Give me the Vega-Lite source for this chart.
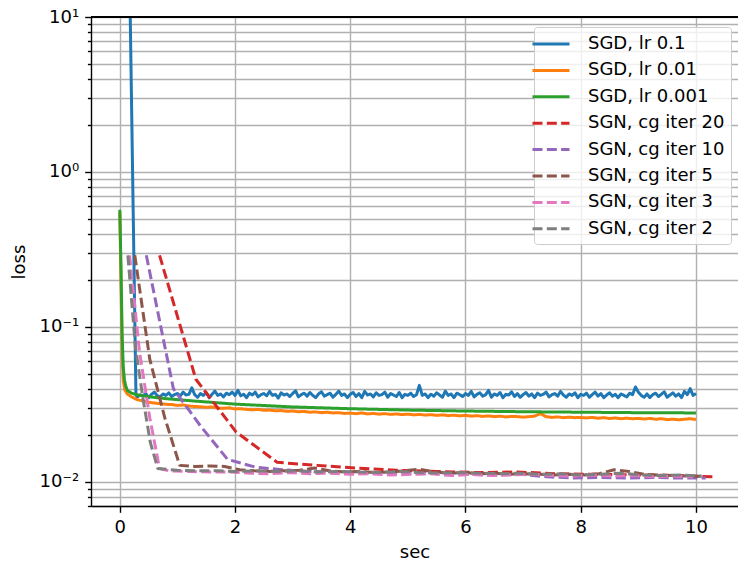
{
"$schema": "https://vega.github.io/schema/vega-lite/v6.json",
"width": 647, "height": 489,
"autosize": "none",
"padding": {"left": 91, "top": 17, "right": 0, "bottom": 58},
"config": {"font": "DejaVu Sans", "view": {"stroke": null},
  "axis": {"labelFontSize": 18, "titleFontSize": 18, "titleFontWeight": "normal", "labelColor": "black", "titleColor": "black", "tickColor": "black", "domainColor": "black", "tickWidth": 1.4, "domainWidth": 1.4, "gridColor": "#b0b0b0", "gridWidth": 1.4, "gridOpacity": 1, "labelFlush": false, "labelOverlap": false}},
"data": {"values": [
{"s":"SGD, lr 0.1","t":0.165,"v":25},{"s":"SGD, lr 0.1","t":0.28,"v":0.037},
{"s":"SGD, lr 0.1","t":0.30,"v":0.0352},{"s":"SGD, lr 0.1","t":0.35,"v":0.0365},{"s":"SGD, lr 0.1","t":0.40,"v":0.0358},{"s":"SGD, lr 0.1","t":0.45,"v":0.0372},{"s":"SGD, lr 0.1","t":0.50,"v":0.0350},{"s":"SGD, lr 0.1","t":0.55,"v":0.0368},{"s":"SGD, lr 0.1","t":0.60,"v":0.0380},{"s":"SGD, lr 0.1","t":0.65,"v":0.0360},{"s":"SGD, lr 0.1","t":0.70,"v":0.0354},{"s":"SGD, lr 0.1","t":0.75,"v":0.0370},{"s":"SGD, lr 0.1","t":0.80,"v":0.0362},{"s":"SGD, lr 0.1","t":0.85,"v":0.0376},{"s":"SGD, lr 0.1","t":0.90,"v":0.0356},{"s":"SGD, lr 0.1","t":0.95,"v":0.0366},
{"s":"SGD, lr 0.1","t":1.00,"v":0.0372},{"s":"SGD, lr 0.1","t":1.05,"v":0.0360},{"s":"SGD, lr 0.1","t":1.10,"v":0.0380},{"s":"SGD, lr 0.1","t":1.15,"v":0.0364},{"s":"SGD, lr 0.1","t":1.20,"v":0.0368},{"s":"SGD, lr 0.1","t":1.25,"v":0.0405},{"s":"SGD, lr 0.1","t":1.30,"v":0.0366},{"s":"SGD, lr 0.1","t":1.35,"v":0.0352},{"s":"SGD, lr 0.1","t":1.40,"v":0.0372},{"s":"SGD, lr 0.1","t":1.45,"v":0.0362},{"s":"SGD, lr 0.1","t":1.50,"v":0.0378},{"s":"SGD, lr 0.1","t":1.55,"v":0.0350},{"s":"SGD, lr 0.1","t":1.60,"v":0.0368},{"s":"SGD, lr 0.1","t":1.65,"v":0.0386},{"s":"SGD, lr 0.1","t":1.70,"v":0.0362},{"s":"SGD, lr 0.1","t":1.75,"v":0.0370},{"s":"SGD, lr 0.1","t":1.80,"v":0.0354},{"s":"SGD, lr 0.1","t":1.85,"v":0.0374},{"s":"SGD, lr 0.1","t":1.90,"v":0.0366},{"s":"SGD, lr 0.1","t":1.95,"v":0.0380},
{"s":"SGD, lr 0.1","t":2.00,"v":0.0362},{"s":"SGD, lr 0.1","t":2.05,"v":0.0390},{"s":"SGD, lr 0.1","t":2.10,"v":0.0360},{"s":"SGD, lr 0.1","t":2.15,"v":0.0368},{"s":"SGD, lr 0.1","t":2.20,"v":0.0350},{"s":"SGD, lr 0.1","t":2.25,"v":0.0374},{"s":"SGD, lr 0.1","t":2.30,"v":0.0364},{"s":"SGD, lr 0.1","t":2.35,"v":0.0380},{"s":"SGD, lr 0.1","t":2.40,"v":0.0354},{"s":"SGD, lr 0.1","t":2.45,"v":0.0366},{"s":"SGD, lr 0.1","t":2.50,"v":0.0372},{"s":"SGD, lr 0.1","t":2.55,"v":0.0360},{"s":"SGD, lr 0.1","t":2.60,"v":0.0384},{"s":"SGD, lr 0.1","t":2.65,"v":0.0362},{"s":"SGD, lr 0.1","t":2.70,"v":0.0368},{"s":"SGD, lr 0.1","t":2.75,"v":0.0348},{"s":"SGD, lr 0.1","t":2.80,"v":0.0376},{"s":"SGD, lr 0.1","t":2.85,"v":0.0364},{"s":"SGD, lr 0.1","t":2.90,"v":0.0370},{"s":"SGD, lr 0.1","t":2.95,"v":0.0356},
{"s":"SGD, lr 0.1","t":3.00,"v":0.0372},{"s":"SGD, lr 0.1","t":3.05,"v":0.0388},{"s":"SGD, lr 0.1","t":3.10,"v":0.0354},{"s":"SGD, lr 0.1","t":3.15,"v":0.0366},{"s":"SGD, lr 0.1","t":3.20,"v":0.0374},{"s":"SGD, lr 0.1","t":3.25,"v":0.0358},{"s":"SGD, lr 0.1","t":3.30,"v":0.0378},{"s":"SGD, lr 0.1","t":3.35,"v":0.0362},{"s":"SGD, lr 0.1","t":3.40,"v":0.0350},{"s":"SGD, lr 0.1","t":3.45,"v":0.0370},{"s":"SGD, lr 0.1","t":3.50,"v":0.0382},{"s":"SGD, lr 0.1","t":3.55,"v":0.0358},{"s":"SGD, lr 0.1","t":3.60,"v":0.0366},{"s":"SGD, lr 0.1","t":3.65,"v":0.0374},{"s":"SGD, lr 0.1","t":3.70,"v":0.0352},{"s":"SGD, lr 0.1","t":3.75,"v":0.0368},{"s":"SGD, lr 0.1","t":3.80,"v":0.0386},{"s":"SGD, lr 0.1","t":3.85,"v":0.0362},{"s":"SGD, lr 0.1","t":3.90,"v":0.0370},{"s":"SGD, lr 0.1","t":3.95,"v":0.0350},
{"s":"SGD, lr 0.1","t":4.00,"v":0.0368},{"s":"SGD, lr 0.1","t":4.05,"v":0.0378},{"s":"SGD, lr 0.1","t":4.10,"v":0.0356},{"s":"SGD, lr 0.1","t":4.15,"v":0.0372},{"s":"SGD, lr 0.1","t":4.20,"v":0.0350},{"s":"SGD, lr 0.1","t":4.25,"v":0.0384},{"s":"SGD, lr 0.1","t":4.30,"v":0.0364},{"s":"SGD, lr 0.1","t":4.35,"v":0.0370},{"s":"SGD, lr 0.1","t":4.40,"v":0.0354},{"s":"SGD, lr 0.1","t":4.45,"v":0.0376},{"s":"SGD, lr 0.1","t":4.50,"v":0.0362},{"s":"SGD, lr 0.1","t":4.55,"v":0.0366},{"s":"SGD, lr 0.1","t":4.60,"v":0.0380},{"s":"SGD, lr 0.1","t":4.65,"v":0.0352},{"s":"SGD, lr 0.1","t":4.70,"v":0.0372},{"s":"SGD, lr 0.1","t":4.75,"v":0.0364},{"s":"SGD, lr 0.1","t":4.80,"v":0.0356},{"s":"SGD, lr 0.1","t":4.85,"v":0.0378},{"s":"SGD, lr 0.1","t":4.90,"v":0.0350},{"s":"SGD, lr 0.1","t":4.95,"v":0.0368},
{"s":"SGD, lr 0.1","t":5.00,"v":0.0362},{"s":"SGD, lr 0.1","t":5.05,"v":0.0374},{"s":"SGD, lr 0.1","t":5.10,"v":0.0356},{"s":"SGD, lr 0.1","t":5.15,"v":0.0366},{"s":"SGD, lr 0.1","t":5.20,"v":0.0420},{"s":"SGD, lr 0.1","t":5.25,"v":0.0362},{"s":"SGD, lr 0.1","t":5.30,"v":0.0370},{"s":"SGD, lr 0.1","t":5.35,"v":0.0350},{"s":"SGD, lr 0.1","t":5.40,"v":0.0368},{"s":"SGD, lr 0.1","t":5.45,"v":0.0358},{"s":"SGD, lr 0.1","t":5.50,"v":0.0376},{"s":"SGD, lr 0.1","t":5.55,"v":0.0364},{"s":"SGD, lr 0.1","t":5.60,"v":0.0352},{"s":"SGD, lr 0.1","t":5.65,"v":0.0386},{"s":"SGD, lr 0.1","t":5.70,"v":0.0362},{"s":"SGD, lr 0.1","t":5.75,"v":0.0370},{"s":"SGD, lr 0.1","t":5.80,"v":0.0350},{"s":"SGD, lr 0.1","t":5.85,"v":0.0374},{"s":"SGD, lr 0.1","t":5.90,"v":0.0366},{"s":"SGD, lr 0.1","t":5.95,"v":0.0356},
{"s":"SGD, lr 0.1","t":6.00,"v":0.0372},{"s":"SGD, lr 0.1","t":6.05,"v":0.0362},{"s":"SGD, lr 0.1","t":6.10,"v":0.0384},{"s":"SGD, lr 0.1","t":6.15,"v":0.0354},{"s":"SGD, lr 0.1","t":6.20,"v":0.0368},{"s":"SGD, lr 0.1","t":6.25,"v":0.0376},{"s":"SGD, lr 0.1","t":6.30,"v":0.0358},{"s":"SGD, lr 0.1","t":6.35,"v":0.0366},{"s":"SGD, lr 0.1","t":6.40,"v":0.0390},{"s":"SGD, lr 0.1","t":6.45,"v":0.0352},{"s":"SGD, lr 0.1","t":6.50,"v":0.0370},{"s":"SGD, lr 0.1","t":6.55,"v":0.0362},{"s":"SGD, lr 0.1","t":6.60,"v":0.0378},{"s":"SGD, lr 0.1","t":6.65,"v":0.0350},{"s":"SGD, lr 0.1","t":6.70,"v":0.0368},{"s":"SGD, lr 0.1","t":6.75,"v":0.0364},{"s":"SGD, lr 0.1","t":6.80,"v":0.0382},{"s":"SGD, lr 0.1","t":6.85,"v":0.0356},{"s":"SGD, lr 0.1","t":6.90,"v":0.0372},{"s":"SGD, lr 0.1","t":6.95,"v":0.0352},
{"s":"SGD, lr 0.1","t":7.00,"v":0.0366},{"s":"SGD, lr 0.1","t":7.05,"v":0.0378},{"s":"SGD, lr 0.1","t":7.10,"v":0.0358},{"s":"SGD, lr 0.1","t":7.15,"v":0.0370},{"s":"SGD, lr 0.1","t":7.20,"v":0.0350},{"s":"SGD, lr 0.1","t":7.25,"v":0.0374},{"s":"SGD, lr 0.1","t":7.30,"v":0.0362},{"s":"SGD, lr 0.1","t":7.35,"v":0.0368},{"s":"SGD, lr 0.1","t":7.40,"v":0.0380},{"s":"SGD, lr 0.1","t":7.45,"v":0.0354},{"s":"SGD, lr 0.1","t":7.50,"v":0.0366},{"s":"SGD, lr 0.1","t":7.55,"v":0.0372},{"s":"SGD, lr 0.1","t":7.60,"v":0.0358},{"s":"SGD, lr 0.1","t":7.65,"v":0.0384},{"s":"SGD, lr 0.1","t":7.70,"v":0.0364},{"s":"SGD, lr 0.1","t":7.75,"v":0.0352},{"s":"SGD, lr 0.1","t":7.80,"v":0.0370},{"s":"SGD, lr 0.1","t":7.85,"v":0.0362},{"s":"SGD, lr 0.1","t":7.90,"v":0.0376},{"s":"SGD, lr 0.1","t":7.95,"v":0.0350},
{"s":"SGD, lr 0.1","t":8.00,"v":0.0368},{"s":"SGD, lr 0.1","t":8.05,"v":0.0362},{"s":"SGD, lr 0.1","t":8.10,"v":0.0374},{"s":"SGD, lr 0.1","t":8.15,"v":0.0352},{"s":"SGD, lr 0.1","t":8.20,"v":0.0366},{"s":"SGD, lr 0.1","t":8.25,"v":0.0380},{"s":"SGD, lr 0.1","t":8.30,"v":0.0358},{"s":"SGD, lr 0.1","t":8.35,"v":0.0372},{"s":"SGD, lr 0.1","t":8.40,"v":0.0350},{"s":"SGD, lr 0.1","t":8.45,"v":0.0364},{"s":"SGD, lr 0.1","t":8.50,"v":0.0376},{"s":"SGD, lr 0.1","t":8.55,"v":0.0358},{"s":"SGD, lr 0.1","t":8.60,"v":0.0368},{"s":"SGD, lr 0.1","t":8.65,"v":0.0350},{"s":"SGD, lr 0.1","t":8.70,"v":0.0370},{"s":"SGD, lr 0.1","t":8.75,"v":0.0362},{"s":"SGD, lr 0.1","t":8.80,"v":0.0354},{"s":"SGD, lr 0.1","t":8.85,"v":0.0374},{"s":"SGD, lr 0.1","t":8.90,"v":0.0366},{"s":"SGD, lr 0.1","t":8.95,"v":0.0410},
{"s":"SGD, lr 0.1","t":9.00,"v":0.0380},{"s":"SGD, lr 0.1","t":9.05,"v":0.0362},{"s":"SGD, lr 0.1","t":9.10,"v":0.0352},{"s":"SGD, lr 0.1","t":9.15,"v":0.0370},{"s":"SGD, lr 0.1","t":9.20,"v":0.0350},{"s":"SGD, lr 0.1","t":9.25,"v":0.0366},{"s":"SGD, lr 0.1","t":9.30,"v":0.0374},{"s":"SGD, lr 0.1","t":9.35,"v":0.0356},{"s":"SGD, lr 0.1","t":9.40,"v":0.0368},{"s":"SGD, lr 0.1","t":9.45,"v":0.0382},{"s":"SGD, lr 0.1","t":9.50,"v":0.0352},{"s":"SGD, lr 0.1","t":9.55,"v":0.0364},{"s":"SGD, lr 0.1","t":9.60,"v":0.0376},{"s":"SGD, lr 0.1","t":9.65,"v":0.0358},{"s":"SGD, lr 0.1","t":9.70,"v":0.0370},{"s":"SGD, lr 0.1","t":9.75,"v":0.0350},{"s":"SGD, lr 0.1","t":9.80,"v":0.0384},{"s":"SGD, lr 0.1","t":9.85,"v":0.0366},{"s":"SGD, lr 0.1","t":9.90,"v":0.0400},{"s":"SGD, lr 0.1","t":9.95,"v":0.0362},{"s":"SGD, lr 0.1","t":10.00,"v":0.0372},
{"s":"SGD, lr 0.01","t":0,"v":0.55},{"s":"SGD, lr 0.01","t":0.02,"v":0.2},{"s":"SGD, lr 0.01","t":0.04,"v":0.07},{"s":"SGD, lr 0.01","t":0.06,"v":0.045},{"s":"SGD, lr 0.01","t":0.09,"v":0.039},{"s":"SGD, lr 0.01","t":0.13,"v":0.037},{"s":"SGD, lr 0.01","t":0.2,"v":0.0355},{"s":"SGD, lr 0.01","t":0.25,"v":0.0347},
{"s":"SGD, lr 0.01","t":0.3,"v":0.0340},{"s":"SGD, lr 0.01","t":0.4,"v":0.0333},{"s":"SGD, lr 0.01","t":0.5,"v":0.0327},{"s":"SGD, lr 0.01","t":0.6,"v":0.0323},{"s":"SGD, lr 0.01","t":0.7,"v":0.0320},{"s":"SGD, lr 0.01","t":0.8,"v":0.0317},{"s":"SGD, lr 0.01","t":0.9,"v":0.0316},{"s":"SGD, lr 0.01","t":1.0,"v":0.0312},{"s":"SGD, lr 0.01","t":1.1,"v":0.0314},{"s":"SGD, lr 0.01","t":1.2,"v":0.0309},
{"s":"SGD, lr 0.01","t":1.3,"v":0.0307},{"s":"SGD, lr 0.01","t":1.4,"v":0.0306},{"s":"SGD, lr 0.01","t":1.5,"v":0.0303},{"s":"SGD, lr 0.01","t":1.6,"v":0.0305},{"s":"SGD, lr 0.01","t":1.7,"v":0.0300},{"s":"SGD, lr 0.01","t":1.8,"v":0.0299},{"s":"SGD, lr 0.01","t":1.9,"v":0.0301},{"s":"SGD, lr 0.01","t":2.0,"v":0.0296},{"s":"SGD, lr 0.01","t":2.1,"v":0.0297},{"s":"SGD, lr 0.01","t":2.2,"v":0.0294},
{"s":"SGD, lr 0.01","t":2.3,"v":0.0292},{"s":"SGD, lr 0.01","t":2.4,"v":0.0294},{"s":"SGD, lr 0.01","t":2.5,"v":0.0290},{"s":"SGD, lr 0.01","t":2.6,"v":0.0291},{"s":"SGD, lr 0.01","t":2.7,"v":0.0288},{"s":"SGD, lr 0.01","t":2.8,"v":0.0289},{"s":"SGD, lr 0.01","t":2.9,"v":0.0286},{"s":"SGD, lr 0.01","t":3.0,"v":0.0287},{"s":"SGD, lr 0.01","t":3.1,"v":0.0284},{"s":"SGD, lr 0.01","t":3.2,"v":0.0285},
{"s":"SGD, lr 0.01","t":3.3,"v":0.0282},{"s":"SGD, lr 0.01","t":3.4,"v":0.0283},{"s":"SGD, lr 0.01","t":3.5,"v":0.0280},{"s":"SGD, lr 0.01","t":3.6,"v":0.0282},{"s":"SGD, lr 0.01","t":3.7,"v":0.0279},{"s":"SGD, lr 0.01","t":3.8,"v":0.0280},{"s":"SGD, lr 0.01","t":3.9,"v":0.0277},{"s":"SGD, lr 0.01","t":4.0,"v":0.0278},{"s":"SGD, lr 0.01","t":4.1,"v":0.0276},{"s":"SGD, lr 0.01","t":4.2,"v":0.0279},
{"s":"SGD, lr 0.01","t":4.3,"v":0.0275},{"s":"SGD, lr 0.01","t":4.4,"v":0.0277},{"s":"SGD, lr 0.01","t":4.5,"v":0.0274},{"s":"SGD, lr 0.01","t":4.6,"v":0.0276},{"s":"SGD, lr 0.01","t":4.7,"v":0.0273},{"s":"SGD, lr 0.01","t":4.8,"v":0.0275},{"s":"SGD, lr 0.01","t":4.9,"v":0.0272},{"s":"SGD, lr 0.01","t":5.0,"v":0.0274},{"s":"SGD, lr 0.01","t":5.1,"v":0.0271},{"s":"SGD, lr 0.01","t":5.2,"v":0.0273},
{"s":"SGD, lr 0.01","t":5.3,"v":0.0270},{"s":"SGD, lr 0.01","t":5.4,"v":0.0272},{"s":"SGD, lr 0.01","t":5.5,"v":0.0269},{"s":"SGD, lr 0.01","t":5.6,"v":0.0271},{"s":"SGD, lr 0.01","t":5.7,"v":0.0268},{"s":"SGD, lr 0.01","t":5.8,"v":0.0270},{"s":"SGD, lr 0.01","t":5.9,"v":0.0267},{"s":"SGD, lr 0.01","t":6.0,"v":0.0269},{"s":"SGD, lr 0.01","t":6.1,"v":0.0266},{"s":"SGD, lr 0.01","t":6.2,"v":0.0268},
{"s":"SGD, lr 0.01","t":6.3,"v":0.0265},{"s":"SGD, lr 0.01","t":6.4,"v":0.0267},{"s":"SGD, lr 0.01","t":6.5,"v":0.0264},{"s":"SGD, lr 0.01","t":6.6,"v":0.0266},{"s":"SGD, lr 0.01","t":6.7,"v":0.0263},{"s":"SGD, lr 0.01","t":6.8,"v":0.0265},{"s":"SGD, lr 0.01","t":6.9,"v":0.0264},{"s":"SGD, lr 0.01","t":7.0,"v":0.0262},{"s":"SGD, lr 0.01","t":7.1,"v":0.0264},{"s":"SGD, lr 0.01","t":7.2,"v":0.0266},
{"s":"SGD, lr 0.01","t":7.3,"v":0.0276},{"s":"SGD, lr 0.01","t":7.4,"v":0.0264},{"s":"SGD, lr 0.01","t":7.5,"v":0.0261},{"s":"SGD, lr 0.01","t":7.6,"v":0.0263},{"s":"SGD, lr 0.01","t":7.7,"v":0.0260},{"s":"SGD, lr 0.01","t":7.8,"v":0.0262},{"s":"SGD, lr 0.01","t":7.9,"v":0.0260},{"s":"SGD, lr 0.01","t":8.0,"v":0.0261},{"s":"SGD, lr 0.01","t":8.1,"v":0.0259},{"s":"SGD, lr 0.01","t":8.2,"v":0.0261},
{"s":"SGD, lr 0.01","t":8.3,"v":0.0258},{"s":"SGD, lr 0.01","t":8.4,"v":0.0260},{"s":"SGD, lr 0.01","t":8.5,"v":0.0257},{"s":"SGD, lr 0.01","t":8.6,"v":0.0259},{"s":"SGD, lr 0.01","t":8.7,"v":0.0256},{"s":"SGD, lr 0.01","t":8.8,"v":0.0258},{"s":"SGD, lr 0.01","t":8.9,"v":0.0256},{"s":"SGD, lr 0.01","t":9.0,"v":0.0257},{"s":"SGD, lr 0.01","t":9.1,"v":0.0255},{"s":"SGD, lr 0.01","t":9.2,"v":0.0257},
{"s":"SGD, lr 0.01","t":9.3,"v":0.0254},{"s":"SGD, lr 0.01","t":9.4,"v":0.0256},{"s":"SGD, lr 0.01","t":9.5,"v":0.0253},{"s":"SGD, lr 0.01","t":9.6,"v":0.0254},{"s":"SGD, lr 0.01","t":9.7,"v":0.0252},{"s":"SGD, lr 0.01","t":9.8,"v":0.0254},{"s":"SGD, lr 0.01","t":9.9,"v":0.0256},{"s":"SGD, lr 0.01","t":10.0,"v":0.0253},
{"s":"SGD, lr 0.001","t":0,"v":0.57},{"s":"SGD, lr 0.001","t":0.02,"v":0.25},{"s":"SGD, lr 0.001","t":0.04,"v":0.09},{"s":"SGD, lr 0.001","t":0.06,"v":0.055},{"s":"SGD, lr 0.001","t":0.08,"v":0.046},{"s":"SGD, lr 0.001","t":0.1,"v":0.042},{"s":"SGD, lr 0.001","t":0.13,"v":0.039},{"s":"SGD, lr 0.001","t":0.2,"v":0.0375},{"s":"SGD, lr 0.001","t":0.3,"v":0.0365},{"s":"SGD, lr 0.001","t":0.5,"v":0.0355},{"s":"SGD, lr 0.001","t":0.8,"v":0.0345},{"s":"SGD, lr 0.001","t":1.2,"v":0.0335},{"s":"SGD, lr 0.001","t":2,"v":0.0318},{"s":"SGD, lr 0.001","t":3,"v":0.0305},{"s":"SGD, lr 0.001","t":4,"v":0.0297},{"s":"SGD, lr 0.001","t":5,"v":0.0291},{"s":"SGD, lr 0.001","t":6,"v":0.0287},{"s":"SGD, lr 0.001","t":7,"v":0.0284},{"s":"SGD, lr 0.001","t":8,"v":0.0282},{"s":"SGD, lr 0.001","t":9,"v":0.0280},{"s":"SGD, lr 0.001","t":10,"v":0.0279},
{"s":"SGN, cg iter 20","t":0.69,"v":0.29},{"s":"SGN, cg iter 20","t":1.32,"v":0.046},{"s":"SGN, cg iter 20","t":2.02,"v":0.021},{"s":"SGN, cg iter 20","t":2.73,"v":0.0134},{"s":"SGN, cg iter 20","t":3.42,"v":0.0128},{"s":"SGN, cg iter 20","t":4.1,"v":0.0123},{"s":"SGN, cg iter 20","t":4.8,"v":0.0119},{"s":"SGN, cg iter 20","t":5.5,"v":0.0117},{"s":"SGN, cg iter 20","t":6.2,"v":0.0115},{"s":"SGN, cg iter 20","t":6.9,"v":0.0116},{"s":"SGN, cg iter 20","t":7.6,"v":0.0113},{"s":"SGN, cg iter 20","t":8.3,"v":0.0112},{"s":"SGN, cg iter 20","t":9.0,"v":0.0111},{"s":"SGN, cg iter 20","t":9.7,"v":0.0110},{"s":"SGN, cg iter 20","t":10.33,"v":0.0108},
{"s":"SGN, cg iter 10","t":0.46,"v":0.29},{"s":"SGN, cg iter 10","t":0.93,"v":0.040},{"s":"SGN, cg iter 10","t":1.4,"v":0.023},{"s":"SGN, cg iter 10","t":1.87,"v":0.0140},{"s":"SGN, cg iter 10","t":2.34,"v":0.0125},{"s":"SGN, cg iter 10","t":2.81,"v":0.0120},{"s":"SGN, cg iter 10","t":3.27,"v":0.0117},{"s":"SGN, cg iter 10","t":3.73,"v":0.0116},{"s":"SGN, cg iter 10","t":4.19,"v":0.0114},{"s":"SGN, cg iter 10","t":4.65,"v":0.0115},{"s":"SGN, cg iter 10","t":5.11,"v":0.0113},{"s":"SGN, cg iter 10","t":5.57,"v":0.0114},{"s":"SGN, cg iter 10","t":6.03,"v":0.0112},{"s":"SGN, cg iter 10","t":6.49,"v":0.0111},{"s":"SGN, cg iter 10","t":6.95,"v":0.0112},{"s":"SGN, cg iter 10","t":7.41,"v":0.0108},{"s":"SGN, cg iter 10","t":7.87,"v":0.0106},{"s":"SGN, cg iter 10","t":8.33,"v":0.0107},{"s":"SGN, cg iter 10","t":8.79,"v":0.0106},{"s":"SGN, cg iter 10","t":9.25,"v":0.0107},{"s":"SGN, cg iter 10","t":9.71,"v":0.0106},{"s":"SGN, cg iter 10","t":10.17,"v":0.0106},
{"s":"SGN, cg iter 5","t":0.26,"v":0.29},{"s":"SGN, cg iter 5","t":0.52,"v":0.062},{"s":"SGN, cg iter 5","t":0.78,"v":0.026},{"s":"SGN, cg iter 5","t":1.04,"v":0.0128},{"s":"SGN, cg iter 5","t":1.3,"v":0.0126},{"s":"SGN, cg iter 5","t":1.56,"v":0.0127},{"s":"SGN, cg iter 5","t":1.82,"v":0.0126},{"s":"SGN, cg iter 5","t":2.08,"v":0.0120},{"s":"SGN, cg iter 5","t":2.34,"v":0.0118},{"s":"SGN, cg iter 5","t":2.6,"v":0.0117},{"s":"SGN, cg iter 5","t":2.86,"v":0.0118},{"s":"SGN, cg iter 5","t":3.12,"v":0.0119},{"s":"SGN, cg iter 5","t":3.38,"v":0.0123},{"s":"SGN, cg iter 5","t":3.64,"v":0.0118},{"s":"SGN, cg iter 5","t":3.9,"v":0.0116},{"s":"SGN, cg iter 5","t":4.16,"v":0.0117},{"s":"SGN, cg iter 5","t":4.42,"v":0.0115},{"s":"SGN, cg iter 5","t":4.68,"v":0.0116},{"s":"SGN, cg iter 5","t":4.94,"v":0.0118},{"s":"SGN, cg iter 5","t":5.2,"v":0.0121},{"s":"SGN, cg iter 5","t":5.46,"v":0.0116},{"s":"SGN, cg iter 5","t":5.72,"v":0.0114},{"s":"SGN, cg iter 5","t":5.98,"v":0.0115},{"s":"SGN, cg iter 5","t":6.24,"v":0.0113},{"s":"SGN, cg iter 5","t":6.5,"v":0.0114},{"s":"SGN, cg iter 5","t":6.76,"v":0.0112},{"s":"SGN, cg iter 5","t":7.02,"v":0.0113},{"s":"SGN, cg iter 5","t":7.28,"v":0.0112},{"s":"SGN, cg iter 5","t":7.54,"v":0.0111},{"s":"SGN, cg iter 5","t":7.8,"v":0.0112},{"s":"SGN, cg iter 5","t":8.06,"v":0.0111},{"s":"SGN, cg iter 5","t":8.32,"v":0.0113},{"s":"SGN, cg iter 5","t":8.58,"v":0.0120},{"s":"SGN, cg iter 5","t":8.84,"v":0.0117},{"s":"SGN, cg iter 5","t":9.1,"v":0.0112},{"s":"SGN, cg iter 5","t":9.36,"v":0.0111},{"s":"SGN, cg iter 5","t":9.62,"v":0.0110},{"s":"SGN, cg iter 5","t":9.88,"v":0.0109},{"s":"SGN, cg iter 5","t":10.1,"v":0.0109},
{"s":"SGN, cg iter 3","t":0.17,"v":0.29},{"s":"SGN, cg iter 3","t":0.34,"v":0.07},{"s":"SGN, cg iter 3","t":0.52,"v":0.026},{"s":"SGN, cg iter 3","t":0.69,"v":0.0122},{"s":"SGN, cg iter 3","t":0.86,"v":0.0118},{"s":"SGN, cg iter 3","t":1.2,"v":0.0117},{"s":"SGN, cg iter 3","t":1.55,"v":0.0116},{"s":"SGN, cg iter 3","t":1.9,"v":0.0116},{"s":"SGN, cg iter 3","t":2.25,"v":0.0114},{"s":"SGN, cg iter 3","t":2.6,"v":0.0113},{"s":"SGN, cg iter 3","t":2.95,"v":0.0115},{"s":"SGN, cg iter 3","t":3.3,"v":0.0113},{"s":"SGN, cg iter 3","t":3.65,"v":0.0114},{"s":"SGN, cg iter 3","t":4.0,"v":0.0112},{"s":"SGN, cg iter 3","t":4.35,"v":0.0113},{"s":"SGN, cg iter 3","t":4.7,"v":0.0111},{"s":"SGN, cg iter 3","t":5.05,"v":0.0112},{"s":"SGN, cg iter 3","t":5.4,"v":0.0113},{"s":"SGN, cg iter 3","t":5.75,"v":0.0110},{"s":"SGN, cg iter 3","t":6.1,"v":0.0112},{"s":"SGN, cg iter 3","t":6.45,"v":0.0110},{"s":"SGN, cg iter 3","t":6.8,"v":0.0111},{"s":"SGN, cg iter 3","t":7.15,"v":0.0112},{"s":"SGN, cg iter 3","t":7.5,"v":0.0110},{"s":"SGN, cg iter 3","t":7.85,"v":0.0109},{"s":"SGN, cg iter 3","t":8.2,"v":0.0111},{"s":"SGN, cg iter 3","t":8.55,"v":0.0109},{"s":"SGN, cg iter 3","t":8.9,"v":0.0110},{"s":"SGN, cg iter 3","t":9.25,"v":0.0108},{"s":"SGN, cg iter 3","t":9.6,"v":0.0109},{"s":"SGN, cg iter 3","t":9.95,"v":0.0108},
{"s":"SGN, cg iter 2","t":0.14,"v":0.29},{"s":"SGN, cg iter 2","t":0.27,"v":0.075},{"s":"SGN, cg iter 2","t":0.4,"v":0.035},{"s":"SGN, cg iter 2","t":0.53,"v":0.018},{"s":"SGN, cg iter 2","t":0.66,"v":0.0122},{"s":"SGN, cg iter 2","t":1.0,"v":0.0119},{"s":"SGN, cg iter 2","t":1.35,"v":0.0118},{"s":"SGN, cg iter 2","t":1.7,"v":0.0118},{"s":"SGN, cg iter 2","t":2.05,"v":0.0117},{"s":"SGN, cg iter 2","t":2.4,"v":0.0118},{"s":"SGN, cg iter 2","t":2.75,"v":0.0117},{"s":"SGN, cg iter 2","t":3.1,"v":0.0118},{"s":"SGN, cg iter 2","t":3.45,"v":0.0116},{"s":"SGN, cg iter 2","t":3.8,"v":0.0117},{"s":"SGN, cg iter 2","t":4.15,"v":0.0116},{"s":"SGN, cg iter 2","t":4.5,"v":0.0115},{"s":"SGN, cg iter 2","t":4.85,"v":0.0117},{"s":"SGN, cg iter 2","t":5.2,"v":0.0115},{"s":"SGN, cg iter 2","t":5.55,"v":0.0114},{"s":"SGN, cg iter 2","t":5.9,"v":0.0115},{"s":"SGN, cg iter 2","t":6.25,"v":0.0114},{"s":"SGN, cg iter 2","t":6.6,"v":0.0113},{"s":"SGN, cg iter 2","t":6.95,"v":0.0114},{"s":"SGN, cg iter 2","t":7.3,"v":0.0112},{"s":"SGN, cg iter 2","t":7.65,"v":0.0113},{"s":"SGN, cg iter 2","t":8.0,"v":0.0111},{"s":"SGN, cg iter 2","t":8.35,"v":0.0112},{"s":"SGN, cg iter 2","t":8.7,"v":0.0114},{"s":"SGN, cg iter 2","t":9.05,"v":0.0111},{"s":"SGN, cg iter 2","t":9.4,"v":0.0110},{"s":"SGN, cg iter 2","t":9.75,"v":0.0111},{"s":"SGN, cg iter 2","t":10.1,"v":0.0109}
]},
"layer": [
{"mark": {"type": "line", "clip": true, "strokeWidth": 3, "strokeJoin": "round"},
 "encoding": {
  "x": {"field": "t", "type": "quantitative", "scale": {"domain": [-0.5, 10.73], "nice": false, "zero": false},
        "axis": {"title": "sec", "values": [0, 2, 4, 6, 8, 10], "format": "d", "tickSize": 6.3, "labelPadding": 6, "titlePadding": 7, "grid": true}},
  "y": {"field": "v", "type": "quantitative", "scale": {"type": "log", "domain": [0.007, 10], "nice": false},
        "axis": {"title": "loss", "values": [0.007,0.008,0.009,0.01,0.02,0.03,0.04,0.05,0.06,0.07,0.08,0.09,0.1,0.2,0.3,0.4,0.5,0.6,0.7,0.8,0.9,1,2,3,4,5,6,7,8,9,10],
                 "labelExpr": "datum.value==10?'10¹':datum.value==1?'10⁰':datum.value==0.1?'10⁻¹':datum.value==0.01?'10⁻²':''",
                 "tickSize": {"condition": {"test": "datum.value==10||datum.value==1||datum.value==0.1||datum.value==0.01", "value": 6.3}, "value": 3.6},
                 "labelPadding": 6, "titlePadding": 11, "grid": true}},
  "color": {"field": "s", "type": "nominal",
    "scale": {"domain": ["SGD, lr 0.1","SGD, lr 0.01","SGD, lr 0.001","SGN, cg iter 20","SGN, cg iter 10","SGN, cg iter 5","SGN, cg iter 3","SGN, cg iter 2"],
              "range": ["#1f77b4","#ff7f0e","#2ca02c","#d62728","#9467bd","#8c564b","#e377c2","#7f7f7f"]},
    "legend": {"title": null, "orient": "none", "legendX": 443, "legendY": 10, "symbolType": "M-2,0H2", "symbolSize": 342, "symbolStrokeWidth": 3, "labelFontSize": 18, "labelColor": "black", "labelOffset": 26, "rowPadding": 6.4, "padding": 6, "fillColor": "rgba(255,255,255,0.8)", "strokeColor": "#cccccc", "cornerRadius": 3, "labelLimit": 300}},
  "strokeDash": {"field": "s", "type": "nominal",
    "scale": {"domain": ["SGD, lr 0.1","SGD, lr 0.01","SGD, lr 0.001","SGN, cg iter 20","SGN, cg iter 10","SGN, cg iter 5","SGN, cg iter 3","SGN, cg iter 2"],
              "range": [[1,0],[1,0],[1,0],[10,4.3],[10,4.3],[10,4.3],[10,4.3],[10,4.3]]},
    "legend": {"title": null, "orient": "none", "legendX": 443, "legendY": 10, "symbolType": "M-2,0H2", "symbolSize": 342, "symbolStrokeWidth": 3, "labelFontSize": 18, "labelColor": "black", "labelOffset": 26, "rowPadding": 6.4, "padding": 6, "fillColor": "rgba(255,255,255,0.8)", "strokeColor": "#cccccc", "cornerRadius": 3, "labelLimit": 300}}
 }},
{"mark": {"type": "rule", "color": "black", "strokeWidth": 1.4}, "encoding": {"y": {"datum": 10}}}
]
}
